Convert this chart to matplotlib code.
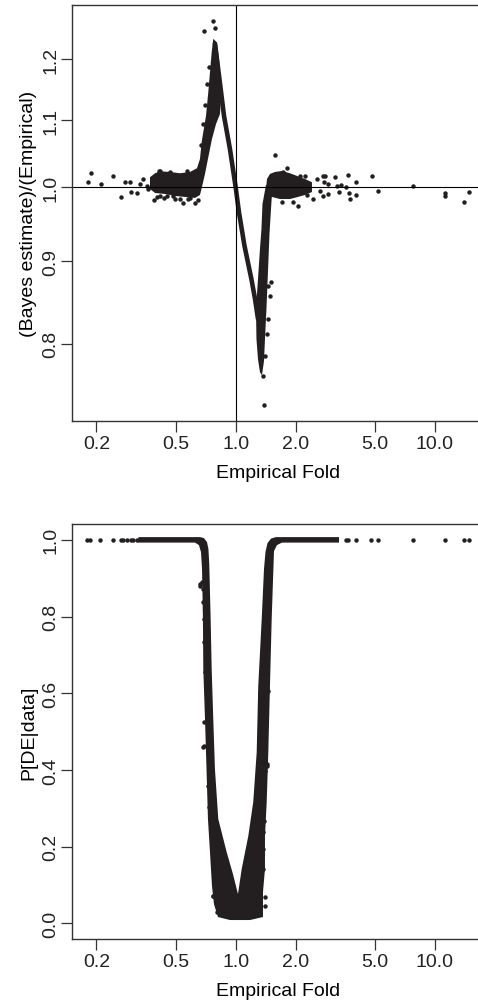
import matplotlib
matplotlib.use("Agg")
import matplotlib.pyplot as plt
from matplotlib.ticker import FixedLocator, FixedFormatter, NullLocator

plt.rcParams['font.family'] = ['Liberation Sans', 'DejaVu Sans']

ink = '#231f20'

# ---- top panel: (Bayes estimate)/(Empirical) vs empirical fold ----
# dense left cloud + rising blob (outline)
blob_fold = [0.772, 0.806, 0.825, 0.839, 0.844, 0.834, 0.797, 0.7605, 0.726, 0.7015, 0.6775,
             0.662, 0.625, 0.557, 0.496, 0.442, 0.394, 0.3715, 0.3715, 0.394, 0.417, 0.468,
             0.525, 0.590, 0.6395, 0.662, 0.675, 0.688, 0.7096, 0.7287, 0.7431, 0.758]
blob_ratio = [1.236, 1.229, 1.201, 1.167, 1.134, 1.110, 1.0945, 1.0713, 1.0412, 1.0192, 1.0004,
              0.9891, 0.9849, 0.9863, 0.9877, 0.9905, 0.9919, 0.9976, 1.0144, 1.0202, 1.0231, 1.0221,
              1.0202, 1.0221, 1.0275, 1.0412, 1.0663, 1.0821, 1.107, 1.1451, 1.1784, 1.2123]

# dense right cloud (outline)
rflat_fold = [1.403, 1.436, 1.486, 1.575, 1.707, 1.873, 2.054, 2.227, 2.414, 2.414, 2.227,
              2.054, 1.873, 1.6685, 1.521]
rflat_ratio = [0.9834, 1.0119, 1.0192, 1.0221, 1.0235, 1.0202, 1.0158, 1.0119, 1.0072, 0.9933,
               0.9891, 0.9863, 0.9834, 0.9834, 0.9863]

# dense branch dropping below 1 (outline)
rbranch_fold = [1.419, 1.363, 1.347, 1.324, 1.294, 1.264, 1.2715, 1.294, 1.324, 1.355, 1.387,
                1.403, 1.427, 1.444, 1.461, 1.478, 1.504, 1.521, 1.539]
rbranch_ratio = [1.0033, 0.9764, 0.9423, 0.9158, 0.8773, 0.8406, 0.8052, 0.7826, 0.7682, 0.7649,
                 0.7805, 0.8052, 0.8406, 0.871, 0.9028, 0.9356, 0.9694, 0.9905, 1.0033]

# thin descending ridge through (1, 1)
ridge_fold = [0.787, 0.829, 0.874, 0.936, 1.0, 1.039, 1.107, 1.200, 1.250, 1.294]
ridge_ratio = [1.227, 1.167, 1.107, 1.056, 1.0, 0.965, 0.920, 0.877, 0.853, 0.829]

# individual genes outside / on the edge of the dense areas
top_pt_fold = [0.181, 0.187, 0.210, 0.241, 0.266, 0.278, 0.295, 0.298, 0.321, 0.331, 0.344,
               0.3575, 0.364, 0.389, 0.417, 0.525, 0.546, 0.625, 0.414, 0.486, 0.436, 0.577,
               0.647, 0.772, 0.693, 0.787, 0.670, 0.686, 0.705, 0.722, 0.735,
               0.417, 0.468, 0.5676, 0.6372, 0.4015, 0.4505, 0.4959, 0.5898,
               1.575, 1.803, 1.939, 2.054, 2.434, 2.549, 2.751, 2.773, 2.732, 2.905, 3.149,
               3.212, 3.298, 3.364, 3.576, 3.673, 3.703, 3.745, 4.015, 4.015, 4.813, 5.194,
               7.730, 11.22, 11.22, 13.98, 14.86, 1.733, 2.102, 2.227, 2.806, 1.701, 2.271,
               2.648, 2.92, 1.457, 1.431, 1.403, 1.375, 1.387, 1.457, 1.486, 1.497]
top_pt_ratio = [1.0072, 1.0202, 1.0047, 1.0167, 0.9867, 1.008, 1.008, 0.9929, 0.9915, 1.0047, 1.0119,
                1.0023, 0.9976, 0.9817, 0.9881, 0.9834, 0.9779, 0.9779, 1.0231, 0.9881, 0.985, 0.983,
                0.9817, 1.268, 1.2504, 1.2547, 1.062, 1.0945, 1.125, 1.159, 1.187,
                1.0240, 1.0216, 1.0240, 1.0216, 0.9858, 0.9881, 0.9834, 0.9844,
                1.0472, 1.0275, 0.9792, 0.9741, 0.9834, 1.0119, 1.0167, 1.0072, 0.9881, 0.9905, 1.0144,
                1.0023, 0.9929, 1.0033, 1.0, 1.0177, 0.9919, 0.9834, 1.008, 0.9891, 1.0158, 0.9952,
                1.0023, 0.9919, 0.9872, 0.9797, 0.9937, 1.0216, 1.0167, 1.0167, 1.0167, 0.979, 0.9891,
                0.9952, 1.0047, 0.869, 0.811, 0.786, 0.764, 0.7332, 0.829, 0.857, 0.874]

# ---- bottom panel: P[DE|data] vs empirical fold ----
vee_fold = [0.325, 0.662, 0.693, 0.718, 0.730, 0.737, 0.749, 0.758, 0.772, 0.787, 0.818, 0.901,
            0.969, 1.027, 1.072, 1.157, 1.225, 1.275, 1.298, 1.351, 1.387, 1.411, 1.444, 1.504,
            1.593, 3.30, 3.30, 1.707, 1.611, 1.557, 1.516, 1.486, 1.458, 1.431, 1.403, 1.403,
            1.371, 1.371, 1.180, 0.936, 0.815, 0.778, 0.7605, 0.743, 0.726, 0.714, 0.7015,
            0.688, 0.685, 0.678, 0.670, 0.654, 0.625, 0.325]
vee_p = [1.007, 1.007, 1.0045, 0.994, 0.9758, 0.9367, 0.7933, 0.6629, 0.5326, 0.4022, 0.2719, 0.1859,
         0.1285, 0.0764, 0.1416, 0.2276, 0.3162, 0.4466, 0.6186, 0.7933, 0.9236, 0.9679, 0.9914, 1.0031,
         1.007, 1.007, 0.9927, 0.9927, 0.9862, 0.9706, 0.7933, 0.6186, 0.4466, 0.3162, 0.2276, 0.1416,
         0.0816, 0.0164, 0.0086, 0.0086, 0.0164, 0.0503, 0.0972, 0.1859, 0.2719, 0.4022, 0.5326,
         0.6629, 0.7933, 0.9236, 0.9679, 0.9862, 0.9927, 0.9927]

bot_pt_fold = [0.180, 0.1857, 0.2085, 0.2431, 0.2648, 0.2729, 0.2838, 0.2973, 0.3042, 0.3208,
               3.576, 3.68, 4.015, 4.77, 5.19, 7.73, 11.22, 13.98, 14.86,
               0.675, 0.662, 0.688, 0.693, 0.7015, 0.688, 0.7148, 0.7287, 0.7431, 0.758, 0.772,
               0.8029, 0.662, 0.688, 0.693, 0.7096, 0.693, 0.693, 0.7491, 0.7372, 0.772, 0.7668,
               0.8085, 0.7431,
               1.431, 1.441, 1.403, 1.324, 1.375, 1.403, 1.387, 1.4575, 1.351, 1.324, 1.431, 1.403,
               1.387, 1.375, 1.403, 1.351, 1.366, 1.4575, 1.403, 1.431, 1.375, 1.403]
bot_pt_p = [1.0, 1.0, 1.0, 1.0, 1.0, 1.0, 1.0, 1.0, 1.0, 1.0,
            1.0, 1.0, 1.0, 1.0, 1.0, 1.0, 1.0, 1.0, 1.0,
            0.889, 0.880, 0.837, 0.793, 0.654, 0.459, 0.567, 0.359, 0.298, 0.237, 0.072,
            0.046, 0.885, 0.871, 0.7325, 0.6455, 0.524, 0.463, 0.376, 0.302, 0.168, 0.072,
            0.029, 0.272,
            0.8715, 0.611, 0.585, 0.602, 0.654, 0.724, 0.767, 0.906, 0.524, 0.463, 0.415, 0.398,
            0.2675, 0.194, 0.068, 0.1416, 0.237, 0.606, 0.5326, 0.411, 0.1416, 0.046]

fold_ticks = [0.2, 0.5, 1.0, 2.0, 5.0, 10.0]
fold_labels = ['0.2', '0.5', '1.0', '2.0', '5.0', '10.0']
ratio_ticks = [0.8, 0.9, 1.0, 1.1, 1.2]
ratio_labels = ['0.8', '0.9', '1.0', '1.1', '1.2']
p_ticks = [0.0, 0.2, 0.4, 0.6, 0.8, 1.0]
p_labels = ['0.0', '0.2', '0.4', '0.6', '0.8', '1.0']

fig = plt.figure(figsize=(4.78, 10.04), dpi=100)
ax1 = fig.add_axes([0.1506, 0.58, 0.864, 0.414])
ax2 = fig.add_axes([0.1506, 0.0637, 0.864, 0.4137])

dot = dict(linestyle='none', marker='o', markersize=3.2, color=ink, markeredgewidth=0)

# top panel
ax1.set_xscale('log')
ax1.set_yscale('log')
ax1.fill(blob_fold, blob_ratio, color=ink, lw=0)
ax1.fill(rflat_fold, rflat_ratio, color=ink, lw=0)
ax1.fill(rbranch_fold, rbranch_ratio, color=ink, lw=0)
ax1.plot(ridge_fold, ridge_ratio, color=ink, lw=3.3, solid_capstyle='round')
ax1.plot(top_pt_fold, top_pt_ratio, **dot)
ax1.axhline(1.0, color='black', lw=0.8)
ax1.axvline(1.0, color='black', lw=0.8)
ax1.set_xlim(0.1509, 17.82)
ax1.set_ylim(0.7169, 1.2968)
ax1.yaxis.set_major_locator(FixedLocator(ratio_ticks))
ax1.yaxis.set_major_formatter(FixedFormatter(ratio_labels))
ax1.set_ylabel('(Bayes estimate)/(Empirical)', fontsize=14, labelpad=4)

# bottom panel
ax2.set_xscale('log')
ax2.fill(vee_fold, vee_p, color=ink, lw=0)
ax2.plot(bot_pt_fold, bot_pt_p, **dot)
ax2.set_xlim(0.1509, 17.82)
ax2.set_ylim(-0.041, 1.042)
ax2.yaxis.set_major_locator(FixedLocator(p_ticks))
ax2.yaxis.set_major_formatter(FixedFormatter(p_labels))
ax2.set_ylabel('P[DE|data]', fontsize=14, labelpad=4)

for ax in (ax1, ax2):
    ax.xaxis.set_major_locator(FixedLocator(fold_ticks))
    ax.xaxis.set_major_formatter(FixedFormatter(fold_labels))
    ax.xaxis.set_minor_locator(NullLocator())
    ax.yaxis.set_minor_locator(NullLocator())
    ax.set_xlabel('Empirical Fold', fontsize=14, labelpad=9)
    ax.tick_params(axis='both', direction='out', length=8, width=0.9, color='#333333',
                   labelsize=14, labelcolor='#222222')
    ax.tick_params(axis='x', pad=2)
    ax.tick_params(axis='y', pad=1)
    for lab in ax.get_yticklabels():
        lab.set_rotation(90)
        lab.set_va('center')
    for sp in ax.spines.values():
        sp.set_linewidth(1.0)
        sp.set_color('#333333')

fig.savefig('out.png', dpi=100)
